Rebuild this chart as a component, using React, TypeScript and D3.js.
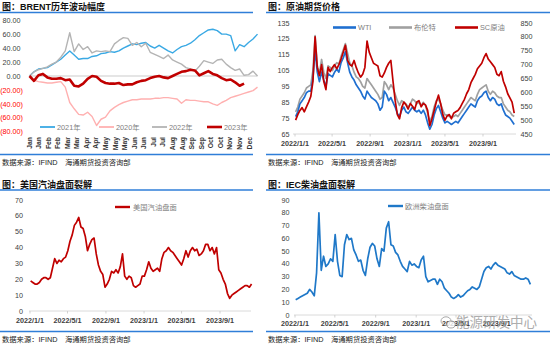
import React from "react";
import * as d3 from "d3";

const FONT = "'Liberation Sans', Arial, 'Noto Sans CJK SC', sans-serif";

// ---------- Panel 1: BRENT yearly fluctuation (weekly, % from year start) ----------
const monthLabels = ["Jan","Jan","Feb","Feb","Mar","Mar","Apr","Apr","May","May","May","Jun","Jun","Jul","Jul","Aug","Aug","Sep","Sep","Oct","Oct","Nov","Nov","Dec"];
const yTicks1 = [80, 60, 40, 20, 0, -20, -40, -60, -80];
const y2021 = [0,6,10,11,12,16,20,24,30,36, 30,24,25,25,28,29,32,33,35,34, 36,40,43,46,45,47,48,43,40,44, 40,36,33,38,42,44,47,52,58,62, 66,67,65,60,60,58,36,45,42,48, 53,60];
const y2020 = [0,-6,-8,-9,-10,-10,-9,-8,-16,-38, -47,-55,-56,-52,-58,-71,-62,-59,-50,-45, -41,-38,-36,-34,-34,-33,-33,-33,-32,-32, -31,-31,-32,-33,-39,-34,-35,-35,-36,-37, -37,-40,-42,-38,-35,-31,-29,-27,-25,-23, -21,-16];
const y2022 = [0,6,9,11,13,17,20,27,36,62, 35,46,38,42,33,36,35,36,35,46, 51,55,54,44,48,42,47,34,31,28, 25,30,23,20,17,12,10,7,14,22, 20,18,23,24,17,12,8,10,1,2, 7,0];
const y2023 = [0,-7,1,3,-2,-4,-4,-3,-6,-5, -14,-15,-11,-4,0,-1,-7,-10,-11,-11, -10,-13,-12,-12,-9,-7,-6,-3,-1,0, -2,-3,0,3,6,7,9,8,1,4, 7,3,1,-3,-6,-5,-9,-14,-11];
const years1 = [
  { name: "2021年", data: y2021, color: "#3aa9e4", width: 1.4 },
  { name: "2020年", data: y2020, color: "#ffb0b0", width: 1.4 },
  { name: "2022年", data: y2022, color: "#b4b4b4", width: 1.4 },
  { name: "2023年", data: y2023, color: "#c00000", width: 2.6 },
];

// ---------- Weekly date grid for the other panels ----------
const weekDates = d3.range(102).map((i) => d3.timeDay.offset(new Date(2022, 0, 3), i * 7));
const dateTicks = [new Date(2022,0,1), new Date(2022,4,1), new Date(2022,8,1), new Date(2023,0,1), new Date(2023,4,1), new Date(2023,8,1)];
const dateTickLabels = ["2022/1/1","2022/5/1","2022/9/1","2023/1/1","2023/5/1","2023/9/1"];

// ---------- Panel 2: crude futures ----------
const wti = [76,79,84,86,88,91,92,92,100,118, 104,98,104,99,95,103,102,101,104,106, 104,110,113,117,110,104,101,99,96,94, 92,89,87,92,90,88,87,86,84,80, 82,92,90,86,88,85,82,78,76,80, 82,79,78,80,82,80,79,80,78,80, 77,72,68,71,77,81,83,79,75,72, 73,72,71,72,73,72,74,76,78,80, 82,84,83,82,86,88,89,91,92,88, 86,88,87,84,83,84,80,77,76,75, 73,71];
const brent = [79,82,87,89,91,94,95,96,105,127, 108,103,112,104,100,108,107,105,108,110, 109,114,118,122,116,110,108,104,101,100, 98,95,94,100,98,96,94,92,90,87, 88,98,96,93,96,94,90,86,83,86, 85,84,82,84,87,86,84,85,83,85, 83,78,73,76,82,86,87,84,80,77, 77,76,76,76,77,76,78,80,82,84, 86,88,87,86,90,93,94,95,96,92, 90,92,91,89,88,88,84,82,80,79, 77,76];
const sc = [500,520,535,545,530,548,565,585,640,800, 690,660,700,640,610,690,675,690,700,685, 700,720,745,770,715,700,695,715,690,670, 655,665,690,785,745,725,705,700,695,660, 655,670,690,705,715,640,570,520,505,545, 565,555,540,560,550,538,565,570,548,560, 555,535,480,505,535,565,590,560,520,500, 515,520,505,525,530,535,545,560,575,595, 610,635,650,665,685,695,705,725,740,720, 710,700,690,665,660,675,640,620,595,580, 565,525];
const leftTicks2 = [135,125,115,105,95,85,75,65];
const rightTicks2 = [850,800,750,700,650,600,550,500,450];

// ---------- Panel 3: US gasoline crack ----------
const gasoline = [19,18,17,17,18,20,21,21,20,21, 27,33,30,32,31,33,34,38,44,48, 54,56,59,53,52,47,38,42,45,46, 36,29,25,23,15,17,20,25,24,26, 24,28,36,22,20,22,21,16,15,16, 17,22,22,26,31,27,25,26,27,25, 33,37,38,40,38,37,35,33,31,29, 33,38,34,38,40,38,39,35,36,38, 42,42,38,40,36,40,26,24,20,17, 11,8,10,11,12,13,14,15,16,16, 15,17];
const yTicks3 = [70,60,50,40,30,20,10,0];

// ---------- Panel 4: IEC diesel crack ----------
const diesel = [12,13,14,15,16,17,20,18,15,33, 80,35,46,38,40,44,42,63,42,31, 30,55,63,59,60,51,47,42,43,35, 31,44,53,56,54,44,38,52,50,68, 73,55,54,49,47,42,38,36,34,42, 39,40,38,37,43,46,30,26,27,28, 28,24,28,26,21,19,17,14,13,14, 16,14,15,17,19,20,22,21,20,22, 28,34,37,38,36,39,41,39,38,37, 36,33,32,34,31,30,29,28,28,29, 28,24];
const yTicks4 = [90,80,70,60,50,40,30,20,10,0];

const BLUE_RULE = "#2f7ed8";
const AXIS_TEXT = "#404040";
const LEGEND_TEXT = "#808080";

function Header({ x, x2, title, y }: { x: number; x2: number; title: string; y: number }) {
  return (
    <g>
      <text x={x + 2} y={y} fontSize={9} fontWeight="bold" fill="#111">{title}</text>
      <line x1={x} x2={x2} y1={y + 2.5} y2={y + 2.5} stroke={BLUE_RULE} strokeWidth={1.5} />
    </g>
  );
}

function Footer({ x, x2, y }: { x: number; x2: number; y: number }) {
  return (
    <g>
      <line x1={x} x2={x2} y1={y} y2={y} stroke={BLUE_RULE} strokeWidth={1.5} />
      <text x={x + 2} y={y + 10.5} fontSize={7.3} fill="#222">数据来源：IFIND</text>
      <text x={x + 65} y={y + 10.5} fontSize={7.3} fill="#222">海通期货投资咨询部</text>
    </g>
  );
}

function fmt1(v: number) {
  return v < 0 ? `(${Math.abs(v).toFixed(2)})` : v.toFixed(2);
}

export default function App() {
  // Panel 1 scales
  const x1 = d3.scaleLinear().domain([0, 51]).range([29.5, 257.5]);
  const y1 = d3.scaleLinear().domain([-80, 80]).range([131.8, 20.2]);
  const xm = d3.scalePoint<number>().domain(d3.range(monthLabels.length)).range([29, 249]);
  const line1 = d3.line<number>().x((_, i) => x1(i)).y((d) => y1(d));

  // Panel 2 scales
  const x2 = d3.scaleTime().domain([new Date(2022, 0, 1), new Date(2023, 11, 31)]).range([295, 295 + 729 * 0.3092]);
  const y2L = d3.scaleLinear().domain([65, 135]).range([134, 23]);
  const y2R = d3.scaleLinear().domain([450, 850]).range([134, 23]);
  const lineL = d3.line<number>().x((_, i) => x2(weekDates[i])).y((d) => y2L(d));
  const lineR = d3.line<number>().x((_, i) => x2(weekDates[i])).y((d) => y2R(d));

  // Panel 3 scales
  const x3 = d3.scaleTime().domain([new Date(2022, 0, 1), new Date(2023, 11, 31)]).range([30, 30 + 729 * 0.3125]);
  const y3 = d3.scaleLinear().domain([0, 70]).range([311, 200]);
  const line3 = d3.line<number>().x((_, i) => x3(weekDates[i])).y((d) => y3(d));

  // Panel 4 scales
  const x4 = d3.scaleTime().domain([new Date(2022, 0, 1), new Date(2023, 11, 31)]).range([295, 295 + 729 * 0.332]);
  const y4 = d3.scaleLinear().domain([0, 90]).range([315, 200]);
  const line4 = d3.line<number>().x((_, i) => x4(weekDates[i])).y((d) => y4(d));

  const legend1X = [40, 99, 152, 207];
  const legend2 = [
    { name: "WTI", color: "#1f6fd0", x: 333 },
    { name: "布伦特", color: "#a0a0a0", x: 389 },
    { name: "SC原油", color: "#c00000", x: 455 },
  ];

  return (
    <svg width={550} height={345} style={{ position: "absolute", left: 0, top: 0, background: "#fff" }} fontFamily={FONT}>
      <rect width={550} height={345} fill="#fff" />

      {/* ================= Panel 1 ================= */}
      <Header x={0} x2={253} y={10} title="图：BRENT历年波动幅度" />
      <line x1={x1(0)} x2={x1(51)} y1={y1(0)} y2={y1(0)} stroke="#dcdcdc" strokeWidth={1.5} />
      {yTicks1.map((t) => (
        <text key={t} x={t < 0 ? 23 : 20.5} y={y1(t) + 2.6} fontSize={7.2} textAnchor="end" fill={t < 0 ? "#ff0000" : AXIS_TEXT}>{fmt1(t)}</text>
      ))}
      {years1.map((s) => (
        <path key={s.name} d={line1(s.data) || ""} fill="none" stroke={s.color} strokeWidth={s.width} strokeLinejoin="round" />
      ))}
      {years1.map((s, i) => (
        <g key={s.name}>
          <line x1={legend1X[i]} x2={legend1X[i] + 15} y1={127} y2={127} stroke={s.color} strokeWidth={s.width > 2 ? 2.6 : 1.8} />
          <text x={legend1X[i] + 17} y={129.6} fontSize={7.3} fill={LEGEND_TEXT}>{s.name}</text>
        </g>
      ))}
      {monthLabels.map((m, i) => (
        <text key={i} transform={`translate(${(xm(i) || 0) + 2.5},137) rotate(-90)`} fontSize={6.8} fontWeight="bold" textAnchor="end" fill="#333">{m}</text>
      ))}
      <Footer x={0} x2={253} y={154.5} />

      {/* ================= Panel 2 ================= */}
      <Header x={266} x2={550} y={10} title="图：原油期货价格" />
      <line x1={293} x2={516} y1={134} y2={134} stroke="#d0d0d0" strokeWidth={0.8} />
      {dateTicks.map((d, i) => (
        <g key={i}>
          <line x1={x2(d)} x2={x2(d)} y1={134} y2={136.5} stroke="#c8c8c8" strokeWidth={0.8} />
          <text x={x2(d)} y={145.5} fontSize={7.2} textAnchor="middle" fill={AXIS_TEXT} fontWeight="bold">{dateTickLabels[i]}</text>
        </g>
      ))}
      {leftTicks2.map((t) => (
        <text key={t} x={289.5} y={y2L(t) + 2.6} fontSize={7.2} textAnchor="end" fill={AXIS_TEXT}>{t}</text>
      ))}
      {rightTicks2.map((t) => (
        <text key={t} x={520.5} y={y2R(t) + 2.6} fontSize={7.2} textAnchor="start" fill={AXIS_TEXT}>{t}</text>
      ))}
      <path d={lineL(brent) || ""} fill="none" stroke="#a0a0a0" strokeWidth={1.7} strokeLinejoin="round" />
      <path d={lineL(wti) || ""} fill="none" stroke="#1f6fd0" strokeWidth={1.7} strokeLinejoin="round" />
      <path d={lineR(sc) || ""} fill="none" stroke="#c00000" strokeWidth={1.7} strokeLinejoin="round" />
      {legend2.map((l) => (
        <g key={l.name}>
          <line x1={l.x} x2={l.x + 23} y1={27.5} y2={27.5} stroke={l.color} strokeWidth={2.6} />
          <text x={l.x + 25} y={30} fontSize={7.3} fill={LEGEND_TEXT}>{l.name}</text>
        </g>
      ))}
      <Footer x={266} x2={550} y={154.5} />

      {/* ================= Panel 3 ================= */}
      <Header x={0} x2={253} y={187.5} title="图：美国汽油盘面裂解" />
      <line x1={29} x2={251} y1={311} y2={311} stroke="#d0d0d0" strokeWidth={0.8} />
      {dateTicks.map((d, i) => (
        <g key={i}>
          <line x1={x3(d)} x2={x3(d)} y1={311} y2={313.5} stroke="#c8c8c8" strokeWidth={0.8} />
          <text x={x3(d)} y={322.5} fontSize={7.2} textAnchor="middle" fill={AXIS_TEXT} fontWeight="bold">{dateTickLabels[i]}</text>
        </g>
      ))}
      {yTicks3.map((t) => (
        <text key={t} x={23} y={y3(t) + 2.6} fontSize={7.2} textAnchor="end" fill={AXIS_TEXT}>{t}</text>
      ))}
      <path d={line3(gasoline) || ""} fill="none" stroke="#c00000" strokeWidth={1.7} strokeLinejoin="round" />
      <line x1={115} x2={130} y1={207} y2={207} stroke="#c00000" strokeWidth={2.4} />
      <text x={133} y={209.6} fontSize={7.3} fill={LEGEND_TEXT}>美国汽油盘面</text>
      <Footer x={0} x2={253} y={331.5} />

      {/* ================= Panel 4 ================= */}
      <Header x={266} x2={550} y={187.5} title="图：IEC柴油盘面裂解" />
      <line x1={294} x2={532} y1={315} y2={315} stroke="#d0d0d0" strokeWidth={0.8} />
      {dateTicks.map((d, i) => (
        <g key={i}>
          <line x1={x4(d)} x2={x4(d)} y1={315} y2={317.5} stroke="#c8c8c8" strokeWidth={0.8} />
          <text x={x4(d)} y={326} fontSize={7.2} textAnchor="middle" fill={AXIS_TEXT} fontWeight="bold">{dateTickLabels[i]}</text>
        </g>
      ))}
      {yTicks4.map((t) => (
        <text key={t} x={289.5} y={y4(t) + 2.6} fontSize={7.2} textAnchor="end" fill={AXIS_TEXT}>{t}</text>
      ))}
      <path d={line4(diesel) || ""} fill="none" stroke="#1f78c8" strokeWidth={1.7} strokeLinejoin="round" />
      <line x1={388} x2={403} y1={206} y2={206} stroke="#1f78c8" strokeWidth={2.4} />
      <text x={405} y={208.6} fontSize={7.3} fill={LEGEND_TEXT}>欧洲柴油盘面</text>
      <Footer x={266} x2={550} y={331.5} />

      {/* watermark */}
      <g opacity={0.8}>
        <ellipse cx={446} cy={321} rx={5} ry={4.2} fill="none" stroke="#888" strokeWidth={0.9} />
        <ellipse cx={451} cy={324.5} rx={4.2} ry={3.5} fill="#fff" stroke="#888" strokeWidth={0.9} />
        <text x={456} y={327} fontSize={13.5} fill="#999" fontFamily="'Noto Sans CJK SC', sans-serif">能源研发中心</text>
      </g>
    </svg>
  );
}
